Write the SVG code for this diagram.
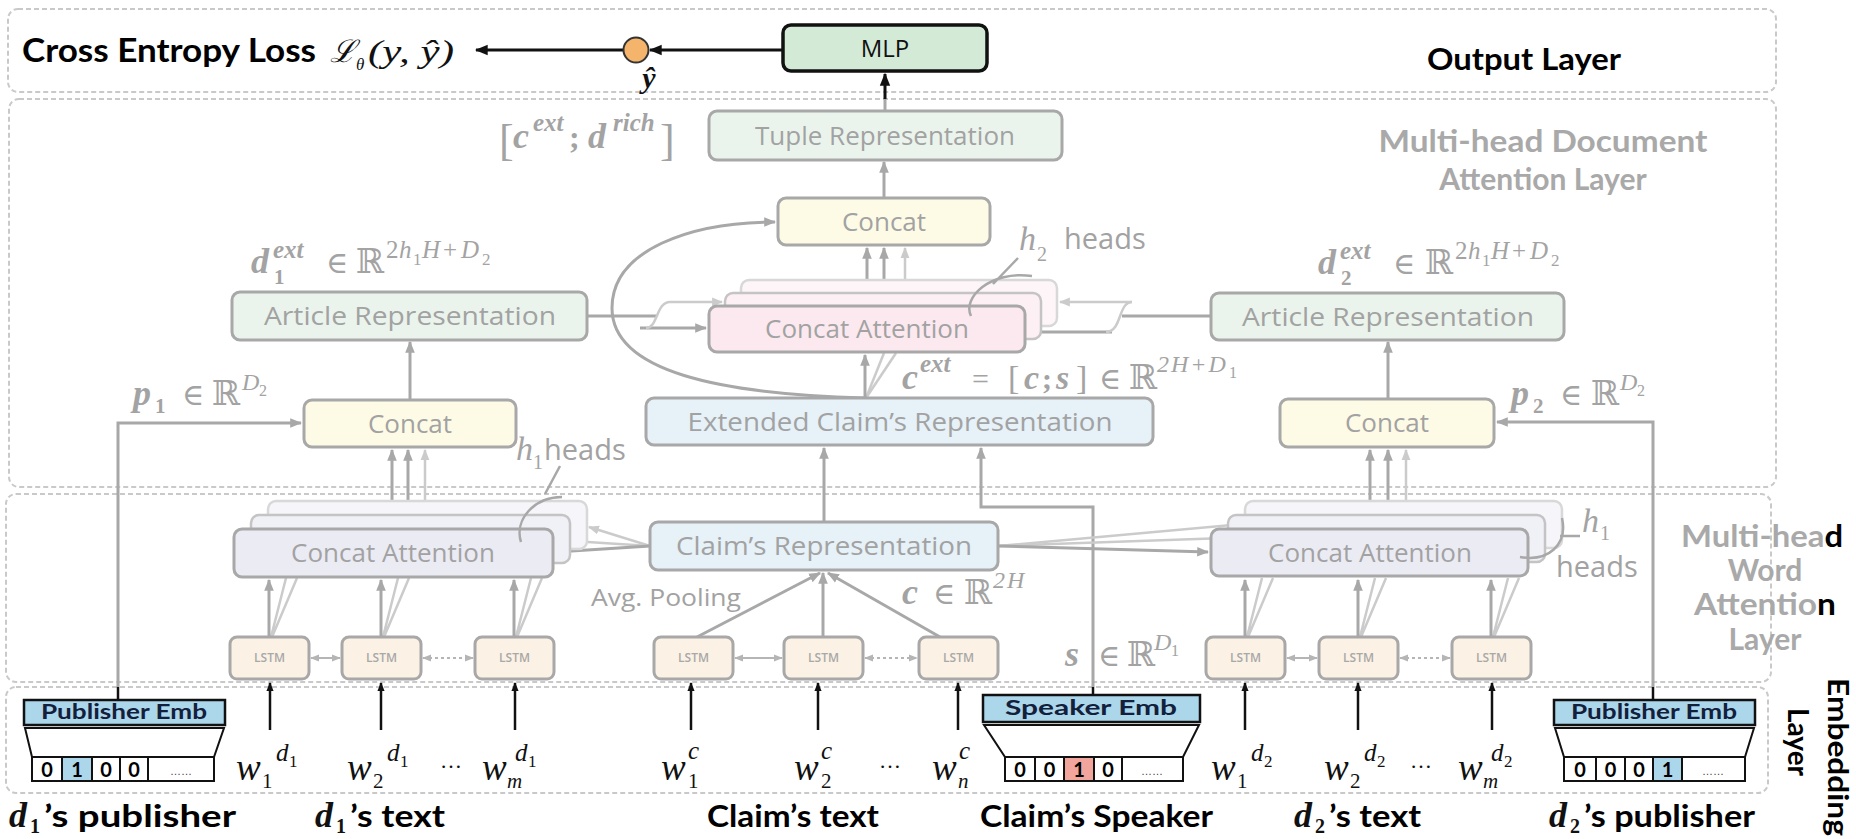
<svg xmlns="http://www.w3.org/2000/svg" width="1856" height="839" viewBox="0 0 1856 839">
<defs>
<style>
.layer{fill:none;stroke:#c9c9c9;stroke-width:2;stroke-dasharray:5 3}
.box{stroke:#a8a8a8;stroke-width:3}
.bk1{stroke:#c4c4c4;stroke-width:2.5}
.bk2{stroke:#d8d8d8;stroke-width:2.5}
.lbl{font-family:'Open Sans','Noto Sans',sans-serif;font-size:26px;fill:#a2a2a2;text-anchor:middle}
.lstm{font-family:'Open Sans','Noto Sans',sans-serif;font-size:12px;font-weight:600;fill:#a8a8a8;text-anchor:middle}
.c{fill:none;stroke:#a8a8a8;stroke-width:3}
.cl{fill:none;stroke:#cbcbcb;stroke-width:2.5}
.ck{fill:none;stroke:#111;stroke-width:3}
.m{font-family:'Liberation Serif','DejaVu Serif',serif;fill:#a3a3a3}
.bi{font-weight:bold;font-style:italic}
.it{font-style:italic}
.mk{font-family:'Liberation Serif','DejaVu Serif',serif;fill:#111}
.b{font-family:Lato,'Liberation Sans',sans-serif;font-weight:700;fill:#000}
.gl{font-family:Lato,'Liberation Sans',sans-serif;font-weight:700;fill:#a9a9a9;text-anchor:middle}
.emb{fill:#acd6ea;stroke:#111;stroke-width:2.5}
.embt{font-family:Lato,'Liberation Sans',sans-serif;font-weight:700;font-size:20px;fill:#12203c;text-anchor:middle}
.cell{fill:#fff;stroke:#111;stroke-width:2}
.dig{font-family:Lato,'Liberation Sans',sans-serif;font-weight:700;font-size:20px;fill:#000;text-anchor:middle}
.dots{font-family:'Liberation Sans',sans-serif;font-size:11px;fill:#444;text-anchor:middle}
.brace{fill:none;stroke:#a8a8a8;stroke-width:2.5}
</style>
<marker id="ag" viewBox="0 0 10 10" refX="9" refY="5" markerWidth="12" markerHeight="12" markerUnits="userSpaceOnUse" orient="auto-start-reverse"><path d="M0,1 L10,5 L0,9 z" fill="#a8a8a8"/></marker>
<marker id="agl" viewBox="0 0 10 10" refX="9" refY="5" markerWidth="11" markerHeight="11" markerUnits="userSpaceOnUse" orient="auto-start-reverse"><path d="M0,1 L10,5 L0,9 z" fill="#cbcbcb"/></marker>
<marker id="as" viewBox="0 0 10 10" refX="9" refY="5" markerWidth="9" markerHeight="9" markerUnits="userSpaceOnUse" orient="auto-start-reverse"><path d="M0,1 L10,5 L0,9 z" fill="#b5b5b5"/></marker>
<marker id="ak" viewBox="0 0 10 10" refX="9" refY="5" markerWidth="13" markerHeight="13" markerUnits="userSpaceOnUse" orient="auto-start-reverse"><path d="M0,1 L10,5 L0,9 z" fill="#111"/></marker>
<marker id="aks" viewBox="0 0 10 10" refX="9" refY="5" markerWidth="9" markerHeight="9" markerUnits="userSpaceOnUse" orient="auto"><path d="M0,1 L10,5 L0,9 z" fill="#111"/></marker>
</defs>

<rect width="1856" height="839" fill="#fff"/>

<!-- layer frames -->
<g id="layers">
  <rect class="layer" x="8" y="9" width="1768" height="83" rx="10"/>
  <rect class="layer" x="9" y="99" width="1767" height="388" rx="10"/>
  <rect class="layer" x="6" y="494" width="1765" height="188" rx="10"/>
  <rect class="layer" x="6" y="687" width="1762" height="106" rx="10"/>
</g>

<!-- connectors -->
<g id="connectors">
  <!-- output layer -->
  <path class="ck" d="M783 50 L650 50" marker-end="url(#ak)"/>
  <path class="ck" d="M623 50 L476 50" marker-end="url(#ak)"/>
  <path class="c" d="M885 111 L885 98"/>
  <path class="ck" d="M885 99 L885 74" marker-end="url(#ak)"/>
  <!-- document attention layer -->
  <path class="c" d="M884 198 L884 162" marker-end="url(#ag)"/>
  <path class="c" d="M867 306 L867 248" marker-end="url(#ag)"/>
  <path class="c" d="M884 292 L884 248" stroke="#bcbcbc" marker-end="url(#ag)"/>
  <path class="cl" d="M905 280 L905 248" marker-end="url(#agl)"/>
  <path class="cl" d="M866 398 L884 353"/>
  <path class="cl" d="M866 398 L896 353"/>
  <path class="c" d="M865 398 L865 355" marker-end="url(#ag)"/>
  <path class="c" d="M865 398 C720 394 612 372 612 308 C612 250 690 222 775 222" marker-end="url(#ag)"/>
  <path class="c" d="M587 316 L656 316"/>
  <path class="c" d="M640 328 L706 328" marker-end="url(#ag)"/>
  <path class="cl" d="M646 328 C658 328 656 302 670 302 L722 302" marker-end="url(#agl)"/>
  <path class="c" d="M1211 316 L1122 316"/>
  <path class="c" d="M1112 332 L1028 332" marker-end="url(#ag)"/>
  <path class="cl" d="M1132 302 C1118 302 1122 332 1106 332"/>
  <path class="cl" d="M1132 302 L1060 302" marker-end="url(#agl)"/>
  <path class="c" d="M410 400 L410 342" marker-end="url(#ag)"/>
  <path class="c" d="M1388 399 L1388 342" marker-end="url(#ag)"/>
  <path class="c" d="M118 687 L118 423 L301 423" marker-end="url(#ag)"/>
  <path class="c" d="M1653 687 L1653 422 L1497 422" marker-end="url(#ag)"/>
  <path class="c" d="M824 522 L824 448" marker-end="url(#ag)"/>
  <path class="c" d="M1093 687 L1093 507 L981 507 L981 448" marker-end="url(#ag)"/>
  <!-- word attention to concat -->
  <path class="c" d="M392 529 L392 450" marker-end="url(#ag)"/>
  <path class="c" d="M408 515 L408 450" stroke="#bcbcbc" marker-end="url(#ag)"/>
  <path class="cl" d="M425 501 L425 450" marker-end="url(#agl)"/>
  <path class="c" d="M1370 529 L1370 450" marker-end="url(#ag)"/>
  <path class="c" d="M1388 515 L1388 450" stroke="#bcbcbc" marker-end="url(#ag)"/>
  <path class="cl" d="M1406 501 L1406 450" marker-end="url(#agl)"/>
  <!-- claim representation to word attention -->
  <path class="cl" d="M650 546 L589 527" marker-end="url(#agl)"/>
  <path class="cl" d="M650 546 L572 541" marker-end="url(#agl)"/>
  <path class="c" d="M650 546 L556 552" marker-end="url(#ag)"/>
  <path class="cl" d="M998 546 L1243 524" marker-end="url(#agl)"/>
  <path class="cl" d="M998 546 L1226 538" marker-end="url(#agl)"/>
  <path class="c" d="M998 546 L1208 552" marker-end="url(#ag)"/>
  <!-- LSTM to attention -->
  <path class="cl" d="M271 637 L286 578 M272 637 L297 578 M383 637 L398 578 M384 637 L409 578 M516 637 L531 578 M517 637 L542 578"/>
  <path class="cl" d="M1247 637 L1262 578 M1248 637 L1273 578 M1360 637 L1375 578 M1361 637 L1386 578 M1493 637 L1508 578 M1494 637 L1519 578"/>
  <path class="c" d="M269 637 L269 580" marker-end="url(#ag)"/>
  <path class="c" d="M381 637 L381 580" marker-end="url(#ag)"/>
  <path class="c" d="M514 637 L514 580" marker-end="url(#ag)"/>
  <path class="c" d="M1245 637 L1245 580" marker-end="url(#ag)"/>
  <path class="c" d="M1358 637 L1358 580" marker-end="url(#ag)"/>
  <path class="c" d="M1491 637 L1491 580" marker-end="url(#ag)"/>
  <!-- LSTM to claim representation (average pooling) -->
  <path class="c" d="M697 637 L820 573" marker-end="url(#ag)"/>
  <path class="c" d="M823 637 L823 573" marker-end="url(#ag)"/>
  <path class="c" d="M940 637 L828 573" marker-end="url(#ag)"/>
  <!-- bidirectional LSTM chains -->
  <g stroke="#b5b5b5" stroke-width="2" fill="none">
    <path d="M311 658 L340 658" marker-start="url(#as)" marker-end="url(#as)"/>
    <path d="M423 658 L473 658" stroke-dasharray="3 3" marker-start="url(#as)" marker-end="url(#as)"/>
    <path d="M735 658 L782 658" marker-start="url(#as)" marker-end="url(#as)"/>
    <path d="M865 658 L917 658" stroke-dasharray="3 3" marker-start="url(#as)" marker-end="url(#as)"/>
    <path d="M1287 658 L1317 658" marker-start="url(#as)" marker-end="url(#as)"/>
    <path d="M1400 658 L1450 658" stroke-dasharray="3 3" marker-start="url(#as)" marker-end="url(#as)"/>
  </g>
  <!-- embedding inputs -->
  <g stroke="#111" stroke-width="2.5" fill="none">
    <path d="M118 687 L118 700"/>
    <path d="M1093 687 L1093 695"/>
    <path d="M1653 687 L1653 700"/>
    <path d="M270 730 L270 683" marker-end="url(#aks)"/>
    <path d="M381 730 L381 683" marker-end="url(#aks)"/>
    <path d="M515 730 L515 683" marker-end="url(#aks)"/>
    <path d="M691 730 L691 683" marker-end="url(#aks)"/>
    <path d="M818 730 L818 683" marker-end="url(#aks)"/>
    <path d="M958 730 L958 683" marker-end="url(#aks)"/>
    <path d="M1245 730 L1245 683" marker-end="url(#aks)"/>
    <path d="M1358 730 L1358 683" marker-end="url(#aks)"/>
    <path d="M1492 730 L1492 683" marker-end="url(#aks)"/>
  </g>
</g>

<!-- output layer -->
<g id="mlp">
  <rect x="783" y="25" width="204" height="46" rx="8" fill="#d3ead7" stroke="#111" stroke-width="3.5"/>
  <text x="885" y="57" font-family="'Open Sans','Noto Sans',sans-serif" font-size="24" fill="#111" text-anchor="middle">MLP</text>
</g>
<g id="prediction">
  <circle cx="636" cy="50" r="12.5" fill="#f5b46b" stroke="#333" stroke-width="2"/>
  <text x="649" y="88" class="mk bi" font-size="30" text-anchor="middle">ŷ</text>
</g>
<g id="loss">
  <text x="22" y="62" class="b" font-size="32" textLength="294" lengthAdjust="spacingAndGlyphs">Cross Entropy Loss</text>
  <text class="mk it" x="330" y="62" font-size="31" font-family="'DejaVu Serif',serif">ℒ</text>
  <text class="mk it" x="356" y="70" font-size="17">θ</text>
  <text class="mk it" x="368" y="62" font-size="32" textLength="86" lengthAdjust="spacingAndGlyphs">(y, ŷ)</text>
</g>
<text class="b" x="1524" y="70" font-size="30" text-anchor="middle" textLength="194" lengthAdjust="spacingAndGlyphs">Output Layer</text>

<!-- document attention layer -->
<g id="tuple">
  <rect class="box" x="709" y="111" width="353" height="49" rx="8" fill="#eaf4ec"/>
  <text class="lbl" x="885" y="145">Tuple Representation</text>
</g>
<text class="m"><tspan x="499" y="155" font-size="44">[</tspan><tspan class="bi" x="513" y="148" font-size="36">c</tspan><tspan class="bi" x="533" y="131" font-size="25">ext</tspan><tspan x="569" y="148" font-size="32" font-weight="bold">;</tspan><tspan class="bi" x="588" y="148" font-size="36">d</tspan><tspan class="bi" x="613" y="131" font-size="25">rich</tspan><tspan x="660" y="155" font-size="44">]</tspan></text>
<g id="concat-doc">
  <rect class="box" x="778" y="198" width="212" height="47" rx="8" fill="#fdfbe6"/>
  <text class="lbl" x="884" y="231">Concat</text>
</g>
<g id="attention-doc">
  <rect class="bk2" x="741" y="280" width="316" height="46" rx="8" fill="#fdf5f8"/>
  <rect class="bk1" x="725" y="293" width="316" height="46" rx="8" fill="#fcf0f4"/>
  <rect class="box" x="709" y="306" width="316" height="46" rx="8" fill="#fbe9ef"/>
  <text class="lbl" x="867" y="338">Concat Attention</text>
  <path class="brace" d="M1018 258 L993 284 M971 316 C962 298 990 270 1032 276"/>
  <text class="m" y="250"><tspan class="it" x="1019" font-size="34">h</tspan><tspan x="1037" y="261" font-size="20">2</tspan></text>
  <text x="1064" y="249" font-family="'Open Sans','Noto Sans',sans-serif" font-size="29" fill="#a2a2a2">heads</text>
</g>
<g id="extended-claim">
  <rect class="box" x="646" y="398" width="507" height="47" rx="8" fill="#e6f1f8"/>
  <text class="lbl" x="900" y="431" textLength="425" lengthAdjust="spacingAndGlyphs">Extended Claim’s Representation</text>
</g>
<text class="m" y="389"><tspan class="bi" x="902" font-size="36">c</tspan><tspan class="bi" x="920" y="372" font-size="25">ext</tspan><tspan x="972" y="389" font-size="30">=</tspan><tspan x="1008" font-size="34">[</tspan><tspan class="bi" x="1024" font-size="34">c</tspan><tspan x="1042" font-size="30" font-weight="bold">;</tspan><tspan class="bi" x="1056" font-size="34">s</tspan><tspan x="1076" font-size="34">]</tspan><tspan x="1099" font-size="30">∈</tspan><tspan x="1129" font-size="34">ℝ</tspan><tspan class="it" x="1157" y="372" font-size="24" letter-spacing="2">2H+D</tspan><tspan x="1229" y="378" font-size="16">1</tspan></text>
<g id="article-left">
  <rect class="box" x="232" y="292" width="355" height="48" rx="8" fill="#eaf4ec"/>
  <text class="lbl" x="410" y="325" textLength="292" lengthAdjust="spacingAndGlyphs">Article Representation</text>
</g>
<text class="m" y="273"><tspan class="bi" x="251" font-size="36">d</tspan><tspan class="bi" x="273" y="258" font-size="25">ext</tspan><tspan x="274" y="284" font-size="21" font-weight="bold">1</tspan><tspan x="326" y="273" font-size="30">∈</tspan><tspan x="356" font-size="34">ℝ</tspan><tspan x="386" y="258" font-size="25">2</tspan><tspan class="it" x="399" font-size="25">h</tspan><tspan x="413" y="265" font-size="17">1</tspan><tspan class="it" x="422" y="258" font-size="25">H</tspan><tspan x="443" font-size="25">+</tspan><tspan class="it" x="461" font-size="25">D</tspan><tspan x="482" y="265" font-size="17">2</tspan></text>
<g id="article-right">
  <rect class="box" x="1211" y="293" width="353" height="47" rx="8" fill="#eaf4ec"/>
  <text class="lbl" x="1388" y="326" textLength="292" lengthAdjust="spacingAndGlyphs">Article Representation</text>
</g>
<text class="m" y="274"><tspan class="bi" x="1318" font-size="36">d</tspan><tspan class="bi" x="1340" y="259" font-size="25">ext</tspan><tspan x="1341" y="285" font-size="21" font-weight="bold">2</tspan><tspan x="1393" y="274" font-size="30">∈</tspan><tspan x="1425" font-size="34">ℝ</tspan><tspan x="1455" y="259" font-size="25">2</tspan><tspan class="it" x="1468" font-size="25">h</tspan><tspan x="1482" y="266" font-size="17">1</tspan><tspan class="it" x="1491" y="259" font-size="25">H</tspan><tspan x="1512" font-size="25">+</tspan><tspan class="it" x="1530" font-size="25">D</tspan><tspan x="1551" y="266" font-size="17">2</tspan></text>
<g id="concat-left">
  <rect class="box" x="304" y="400" width="212" height="47" rx="8" fill="#fdfbe6"/>
  <text class="lbl" x="410" y="433">Concat</text>
</g>
<text class="m" y="405"><tspan class="bi" x="133" font-size="36">p</tspan><tspan x="155" y="413" font-size="21" font-weight="bold">1</tspan><tspan x="182" y="405" font-size="30">∈</tspan><tspan x="212" font-size="34">ℝ</tspan><tspan class="it" x="242" y="390" font-size="24">D</tspan><tspan x="259" y="396" font-size="16">2</tspan></text>
<g id="concat-right">
  <rect class="box" x="1280" y="399" width="214" height="48" rx="8" fill="#fdfbe6"/>
  <text class="lbl" x="1387" y="432">Concat</text>
</g>
<text class="m" y="405"><tspan class="bi" x="1511" font-size="36">p</tspan><tspan x="1533" y="413" font-size="21" font-weight="bold">2</tspan><tspan x="1560" y="405" font-size="30">∈</tspan><tspan x="1591" font-size="34">ℝ</tspan><tspan class="it" x="1620" y="390" font-size="24">D</tspan><tspan x="1637" y="396" font-size="16">2</tspan></text>
<text class="gl" x="1543" y="152" font-size="30" textLength="329" lengthAdjust="spacingAndGlyphs">Multi-head Document</text>
<text class="gl" x="1543" y="190" font-size="30">Attention Layer</text>

<!-- word attention layer -->
<g id="claim-rep">
  <rect class="box" x="650" y="522" width="348" height="48" rx="8" fill="#e6f1f8"/>
  <text class="lbl" x="824" y="555" textLength="296" lengthAdjust="spacingAndGlyphs">Claim’s Representation</text>
</g>
<text x="666" y="606" font-family="'Open Sans','Noto Sans',sans-serif" font-size="24" fill="#a2a2a2" text-anchor="middle" textLength="150" lengthAdjust="spacingAndGlyphs">Avg. Pooling</text>
<text class="m" y="604"><tspan class="bi" x="902" font-size="36">c</tspan><tspan x="933" font-size="30">∈</tspan><tspan x="964" font-size="34">ℝ</tspan><tspan class="it" x="993" y="588" font-size="24" letter-spacing="2">2H</tspan></text>
<text class="m" y="666"><tspan class="bi" x="1065" font-size="36">s</tspan><tspan x="1098" font-size="30">∈</tspan><tspan x="1127" font-size="34">ℝ</tspan><tspan class="it" x="1154" y="650" font-size="24">D</tspan><tspan x="1171" y="656" font-size="16">1</tspan></text>
<g id="attention-word-left">
  <rect class="bk2" x="268" y="501" width="319" height="48" rx="8" fill="#f5f5fa"/>
  <rect class="bk1" x="251" y="515" width="319" height="48" rx="8" fill="#f0f0f7"/>
  <rect class="box" x="234" y="529" width="319" height="48" rx="8" fill="#ebebf4"/>
  <text class="lbl" x="393" y="562">Concat Attention</text>
  <path class="brace" d="M560 466 L545 494 M521 542 C514 520 534 497 562 497"/>
  <text class="m" y="460"><tspan class="it" x="516" font-size="34">h</tspan><tspan x="533" y="469" font-size="20">1</tspan></text>
  <text x="544" y="460" font-family="'Open Sans','Noto Sans',sans-serif" font-size="29" fill="#a2a2a2">heads</text>
</g>
<g id="attention-word-right">
  <rect class="bk2" x="1245" y="501" width="317" height="47" rx="8" fill="#f5f5fa"/>
  <rect class="bk1" x="1228" y="515" width="317" height="47" rx="8" fill="#f0f0f7"/>
  <rect class="box" x="1211" y="529" width="317" height="47" rx="8" fill="#ebebf4"/>
  <text class="lbl" x="1370" y="562">Concat Attention</text>
  <path class="brace" d="M1520 557 C1548 562 1568 545 1562 518 M1560 536 L1580 536"/>
  <text class="m" y="532"><tspan class="it" x="1582" font-size="34">h</tspan><tspan x="1600" y="540" font-size="20">1</tspan></text>
  <text x="1556" y="577" font-family="'Open Sans','Noto Sans',sans-serif" font-size="29" fill="#a2a2a2">heads</text>
</g>
<g id="lstm-d1">
  <rect class="box" x="230" y="637" width="79" height="42" rx="7" fill="#fbf1e4"/><text class="lstm" x="269.5" y="662">LSTM</text>
  <rect class="box" x="342" y="637" width="79" height="42" rx="7" fill="#fbf1e4"/><text class="lstm" x="381.5" y="662">LSTM</text>
  <rect class="box" x="475" y="637" width="79" height="42" rx="7" fill="#fbf1e4"/><text class="lstm" x="514.5" y="662">LSTM</text>
</g>
<g id="lstm-claim">
  <rect class="box" x="654" y="637" width="79" height="42" rx="7" fill="#fbf1e4"/><text class="lstm" x="693.5" y="662">LSTM</text>
  <rect class="box" x="784" y="637" width="79" height="42" rx="7" fill="#fbf1e4"/><text class="lstm" x="823.5" y="662">LSTM</text>
  <rect class="box" x="919" y="637" width="79" height="42" rx="7" fill="#fbf1e4"/><text class="lstm" x="958.5" y="662">LSTM</text>
</g>
<g id="lstm-d2">
  <rect class="box" x="1206" y="637" width="79" height="42" rx="7" fill="#fbf1e4"/><text class="lstm" x="1245.5" y="662">LSTM</text>
  <rect class="box" x="1319" y="637" width="79" height="42" rx="7" fill="#fbf1e4"/><text class="lstm" x="1358.5" y="662">LSTM</text>
  <rect class="box" x="1452" y="637" width="79" height="42" rx="7" fill="#fbf1e4"/><text class="lstm" x="1491.5" y="662">LSTM</text>
</g>
<text class="gl" x="1762" y="547" font-size="30" textLength="162" lengthAdjust="spacingAndGlyphs">Multi-hea<tspan fill="#000">d</tspan></text>
<text class="gl" x="1765" y="581" font-size="30">Word</text>
<text class="gl" x="1765" y="615" font-size="30" textLength="142" lengthAdjust="spacingAndGlyphs">Attentio<tspan fill="#000">n</tspan></text>
<text class="gl" x="1765" y="650" font-size="30">Layer</text>

<!-- embedding layer -->
<g id="publisher-emb-1">
  <rect class="emb" x="24" y="700" width="201" height="25"/>
  <text class="embt" x="124" y="719" textLength="166" lengthAdjust="spacingAndGlyphs">Publisher Emb</text>
  <polygon points="25,728 224,728 214,757 32,757" fill="#fff" stroke="#111" stroke-width="2"/>
  <rect class="cell" x="32" y="757" width="182" height="24"/>
  <rect x="62" y="757" width="30" height="24" fill="#acd6ea" stroke="#111" stroke-width="2"/>
  <path d="M92 757 V781 M120 757 V781 M148 757 V781" stroke="#111" stroke-width="2"/>
  <text class="dig" x="47" y="777">0</text><text class="dig" x="77" y="777">1</text><text class="dig" x="106" y="777">0</text><text class="dig" x="134" y="777">0</text><text class="dots" x="181" y="775">……</text>
</g>
<g id="speaker-emb">
  <rect class="emb" x="983" y="695" width="217" height="27"/>
  <text class="embt" x="1091" y="715" textLength="172" lengthAdjust="spacingAndGlyphs">Speaker Emb</text>
  <polygon points="984,725 1199,725 1183,757 1005,757" fill="#fff" stroke="#111" stroke-width="2"/>
  <rect class="cell" x="1005" y="757" width="178" height="24"/>
  <rect x="1064" y="757" width="30" height="24" fill="#f2a59c" stroke="#111" stroke-width="2"/>
  <path d="M1035 757 V781 M1122 757 V781" stroke="#111" stroke-width="2"/>
  <text class="dig" x="1020" y="777">0</text><text class="dig" x="1049.5" y="777">0</text><text class="dig" x="1079" y="777">1</text><text class="dig" x="1108" y="777">0</text><text class="dots" x="1152" y="775">……</text>
</g>
<g id="publisher-emb-2">
  <rect class="emb" x="1554" y="700" width="201" height="25"/>
  <text class="embt" x="1654" y="719" textLength="166" lengthAdjust="spacingAndGlyphs">Publisher Emb</text>
  <polygon points="1555,728 1754,728 1745,757 1564,757" fill="#fff" stroke="#111" stroke-width="2"/>
  <rect class="cell" x="1564" y="757" width="181" height="24"/>
  <rect x="1653" y="757" width="29" height="24" fill="#acd6ea" stroke="#111" stroke-width="2"/>
  <path d="M1596 757 V781 M1625 757 V781" stroke="#111" stroke-width="2"/>
  <text class="dig" x="1580" y="777">0</text><text class="dig" x="1610.5" y="777">0</text><text class="dig" x="1639" y="777">0</text><text class="dig" x="1667.5" y="777">1</text><text class="dots" x="1713" y="775">……</text>
</g>

<!-- word tokens -->
<g id="tokens-d1" class="mk">
  <text><tspan class="it" x="236" y="780" font-size="37">w</tspan><tspan x="262" y="788" font-size="21">1</tspan><tspan class="it" x="276" y="761" font-size="25">d</tspan><tspan x="289" y="767" font-size="17">1</tspan></text>
  <text><tspan class="it" x="347" y="780" font-size="37">w</tspan><tspan x="373" y="788" font-size="21">2</tspan><tspan class="it" x="387" y="761" font-size="25">d</tspan><tspan x="400" y="767" font-size="17">1</tspan></text>
  <text x="451" y="768" font-size="22" text-anchor="middle">…</text>
  <text><tspan class="it" x="482" y="780" font-size="37">w</tspan><tspan class="it" x="507" y="788" font-size="21">m</tspan><tspan class="it" x="515" y="761" font-size="25">d</tspan><tspan x="528" y="767" font-size="17">1</tspan></text>
</g>
<g id="tokens-claim" class="mk">
  <text><tspan class="it" x="661" y="780" font-size="37">w</tspan><tspan x="688" y="788" font-size="21">1</tspan><tspan class="it" x="688" y="759" font-size="25">c</tspan></text>
  <text><tspan class="it" x="794" y="780" font-size="37">w</tspan><tspan x="821" y="788" font-size="21">2</tspan><tspan class="it" x="821" y="759" font-size="25">c</tspan></text>
  <text x="890" y="768" font-size="22" text-anchor="middle">…</text>
  <text><tspan class="it" x="932" y="780" font-size="37">w</tspan><tspan class="it" x="958" y="788" font-size="21">n</tspan><tspan class="it" x="959" y="759" font-size="25">c</tspan></text>
</g>
<g id="tokens-d2" class="mk">
  <text><tspan class="it" x="1211" y="780" font-size="37">w</tspan><tspan x="1237" y="788" font-size="21">1</tspan><tspan class="it" x="1251" y="761" font-size="25">d</tspan><tspan x="1264" y="767" font-size="17">2</tspan></text>
  <text><tspan class="it" x="1324" y="780" font-size="37">w</tspan><tspan x="1350" y="788" font-size="21">2</tspan><tspan class="it" x="1364" y="761" font-size="25">d</tspan><tspan x="1377" y="767" font-size="17">2</tspan></text>
  <text x="1421" y="768" font-size="22" text-anchor="middle">…</text>
  <text><tspan class="it" x="1458" y="780" font-size="37">w</tspan><tspan class="it" x="1483" y="788" font-size="21">m</tspan><tspan class="it" x="1491" y="761" font-size="25">d</tspan><tspan x="1504" y="767" font-size="17">2</tspan></text>
</g>

<!-- input captions -->
<g id="captions">
  <text class="mk" y="827"><tspan class="bi" x="9" font-size="36">d</tspan><tspan x="30" y="833" font-size="20" font-weight="bold">1</tspan></text>
  <text class="b" x="44" y="827" font-size="31" textLength="192" lengthAdjust="spacingAndGlyphs">’s publisher</text>
  <text class="mk" y="827"><tspan class="bi" x="315" font-size="36">d</tspan><tspan x="336" y="833" font-size="20" font-weight="bold">1</tspan></text>
  <text class="b" x="350" y="827" font-size="31" textLength="95" lengthAdjust="spacingAndGlyphs">’s text</text>
  <text class="b" x="707" y="827" font-size="31" textLength="172" lengthAdjust="spacingAndGlyphs">Claim’s text</text>
  <text class="b" x="980" y="827" font-size="31" textLength="233" lengthAdjust="spacingAndGlyphs">Claim’s Speaker</text>
  <text class="mk" y="827"><tspan class="bi" x="1294" font-size="36">d</tspan><tspan x="1315" y="833" font-size="20" font-weight="bold">2</tspan></text>
  <text class="b" x="1329" y="827" font-size="31" textLength="92" lengthAdjust="spacingAndGlyphs">’s text</text>
  <text class="mk" y="827"><tspan class="bi" x="1549" font-size="36">d</tspan><tspan x="1570" y="833" font-size="20" font-weight="bold">2</tspan></text>
  <text class="b" x="1584" y="827" font-size="31" textLength="171" lengthAdjust="spacingAndGlyphs">’s publisher</text>
  <text class="b" font-size="28" text-anchor="middle" transform="translate(1828,757) rotate(90)" textLength="158" lengthAdjust="spacingAndGlyphs">Embedding</text>
  <text class="b" font-size="28" text-anchor="middle" transform="translate(1788,742) rotate(90)">Layer</text>
</g>
</svg>
